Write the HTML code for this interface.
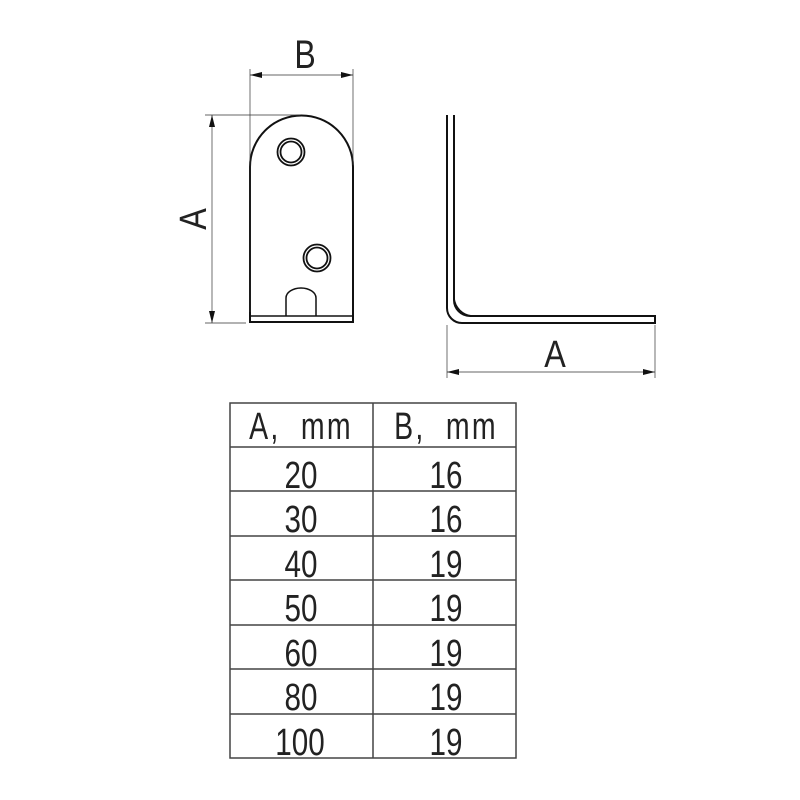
<!DOCTYPE html>
<html><head><style>
html,body{margin:0;padding:0;background:#fff;}
svg{display:block;}
text{font-family:"Liberation Sans",sans-serif;fill:#222;}
</style></head><body>
<svg width="800" height="800" viewBox="0 0 800 800" xmlns="http://www.w3.org/2000/svg">
<defs>
<marker id="ar" viewBox="0 0 12 6" refX="12" refY="3" markerWidth="12" markerHeight="6" orient="auto-start-reverse" markerUnits="userSpaceOnUse">
<path d="M0,0 L12,3 L0,6 z" fill="#111"/>
</marker>
</defs>
<g fill="none" stroke="#111">
<path d="M250,322 L250,167 A51.5,51.5 0 0 1 353,167 L353,322 Z" stroke-width="2"/>
<line x1="250" y1="316" x2="353" y2="316" stroke-width="1.5"/>
<circle cx="291" cy="152" r="13.5" stroke-width="1.8"/>
<circle cx="291" cy="152" r="10.5" stroke-width="1.8"/>
<circle cx="317" cy="258" r="13.5" stroke-width="1.8"/>
<circle cx="317" cy="258" r="10.5" stroke-width="1.8"/>
<path d="M286,316 L286,298 A15,10 0 0 1 316,298 L316,316" stroke-width="1.5"/>
<line x1="250" y1="69" x2="250" y2="312" stroke-width="0.7" stroke="#333"/>
<line x1="353" y1="69" x2="353" y2="165" stroke-width="0.7" stroke="#333"/>
<line x1="250" y1="75" x2="353" y2="75" stroke-width="0.7" stroke="#333" marker-start="url(#ar)" marker-end="url(#ar)"/>
<line x1="205" y1="115" x2="300" y2="115" stroke-width="0.7" stroke="#333"/>
<line x1="205" y1="323" x2="246" y2="323" stroke-width="0.7" stroke="#333"/>
<line x1="212" y1="115" x2="212" y2="323" stroke-width="0.7" stroke="#333" marker-start="url(#ar)" marker-end="url(#ar)"/>
<path d="M447,115 L447,308 A15,15 0 0 0 462,323 L655,323 L655,316 L470,316 A16,16 0 0 1 454,300 L454,115" stroke-width="2"/>
<path d="M454,298 A20,20 0 0 0 472,316" stroke-width="1.5"/>
<line x1="447" y1="325" x2="447" y2="378" stroke-width="0.7" stroke="#333"/>
<line x1="655" y1="325" x2="655" y2="378" stroke-width="0.7" stroke="#333"/>
<line x1="447" y1="372" x2="655" y2="372" stroke-width="0.7" stroke="#333" marker-start="url(#ar)" marker-end="url(#ar)"/>
<rect x="230" y="403" width="286" height="355" stroke="#444" stroke-width="1.5"/>
<line x1="373" y1="403" x2="373" y2="758" stroke="#444" stroke-width="1.5"/>
<g stroke="#444" stroke-width="1.5">
<line x1="230" y1="447" x2="516" y2="447"/>
<line x1="230" y1="491" x2="516" y2="491"/>
<line x1="230" y1="536" x2="516" y2="536"/>
<line x1="230" y1="580" x2="516" y2="580"/>
<line x1="230" y1="625" x2="516" y2="625"/>
<line x1="230" y1="669" x2="516" y2="669"/>
<line x1="230" y1="714" x2="516" y2="714"/>
</g>
</g>
<text transform="translate(305,68) scale(0.8,1)" font-size="40" text-anchor="middle">B</text>
<text transform="translate(206,219) rotate(-90) scale(0.85,1)" font-size="38" text-anchor="middle">A</text>
<text transform="translate(555,367) scale(0.85,1)" font-size="38" text-anchor="middle">A</text>
<g font-size="38" text-anchor="middle">
<text transform="translate(301,439) scale(0.75,1)" xml:space="preserve" letter-spacing="3">A,  mm</text>
<text transform="translate(446,439) scale(0.75,1)" xml:space="preserve" letter-spacing="3">B,  mm</text>
<text transform="translate(301,488) scale(0.78,1)">20</text>
<text transform="translate(446,488) scale(0.78,1)">16</text>
<text transform="translate(301,532) scale(0.78,1)">30</text>
<text transform="translate(446,532) scale(0.78,1)">16</text>
<text transform="translate(301,577) scale(0.78,1)">40</text>
<text transform="translate(446,577) scale(0.78,1)">19</text>
<text transform="translate(301,621) scale(0.78,1)">50</text>
<text transform="translate(446,621) scale(0.78,1)">19</text>
<text transform="translate(301,666) scale(0.78,1)">60</text>
<text transform="translate(446,666) scale(0.78,1)">19</text>
<text transform="translate(301,710) scale(0.78,1)">80</text>
<text transform="translate(446,710) scale(0.78,1)">19</text>
<text transform="translate(300,755) scale(0.78,1)">100</text>
<text transform="translate(446,755) scale(0.78,1)">19</text>
</g>
</svg>
</body></html>
